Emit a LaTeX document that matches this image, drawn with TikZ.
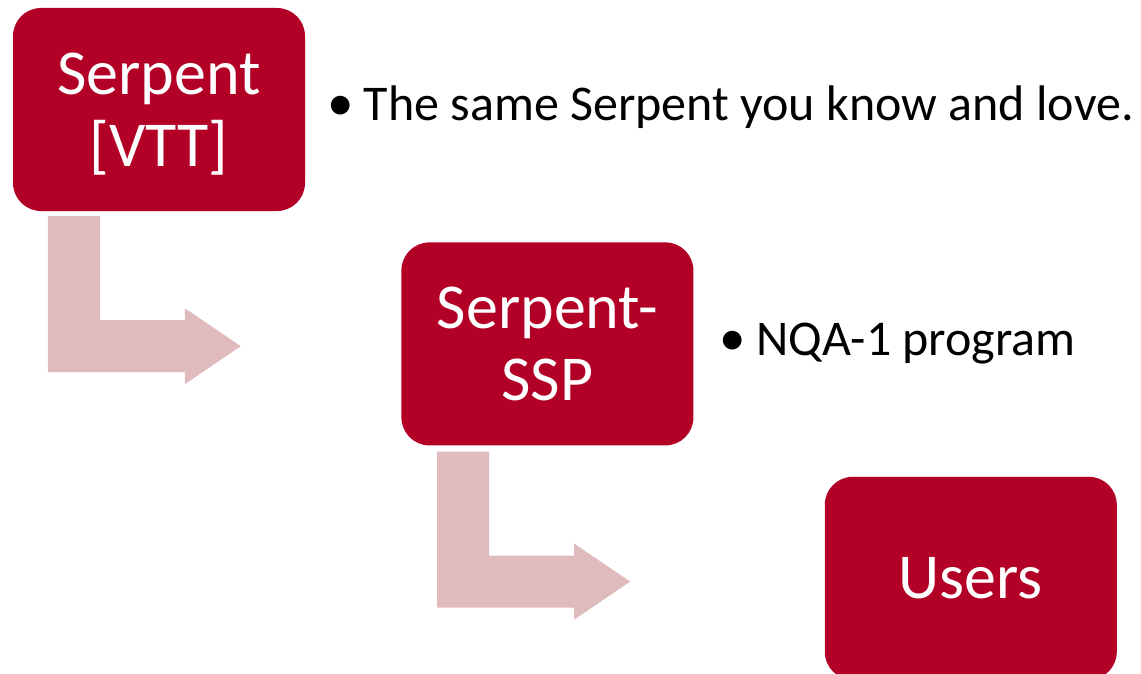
\documentclass[tikz,border=0pt]{standalone}
\usepackage{fontspec}
\setmainfont{Carlito}
\usepackage{tikz}
\usetikzlibrary{positioning}
\definecolor{serpentred}{RGB}{178,0,38}
\definecolor{arrowpink}{RGB}{223,187,190}
\newcommand{\notebullet}{{\fontsize{53}{58}\selectfont\textbullet}\hspace{0.2em}}

\begin{document}
\begin{tikzpicture}[x=1pt, y=-1pt]
\tikzset{
  stage/.style={draw=none, fill=serpentred, rounded corners=28pt, minimum width=292pt, minimum height=203pt,
    inner sep=0pt, text=white, align=center, font=\fontsize{64}{72}\selectfont},
  note/.style={anchor=west, inner sep=0pt, text=black, font=\fontsize{50}{58}\selectfont},
  bentarrow/.pic={\fill[arrowpink] (0,0) -- (52,0) -- (52,104) -- (137,104) -- (137,92) -- (193,130)
    -- (137,168) -- (137,156) -- (0,156) -- cycle;}
}
\useasboundingbox (0,0) rectangle (1141,674);

\node[stage]    (vtt)   at (159,109.5)  {Serpent\\\smash{[VTT]}};
\node[stage]    (ssp)   [below right=31pt and 96pt of vtt]    {Serpent-\\SSP};
\node[stage]    (users) [below right=31pt and 131pt of ssp]   {Users};

\node[note]     (vttnote) at ([xshift=22pt,yshift=2pt]vtt.east)  {\notebullet The same Serpent you know and love.};
\node[note]     (sspnote) at ([xshift=26pt]ssp.east)             {\notebullet NQA-1 program};

\pic at ([xshift=35pt,yshift=-5pt]vtt.south west) {bentarrow};
\pic at ([xshift=36pt,yshift=-6pt]ssp.south west) {bentarrow};

\end{tikzpicture}
\end{document}
